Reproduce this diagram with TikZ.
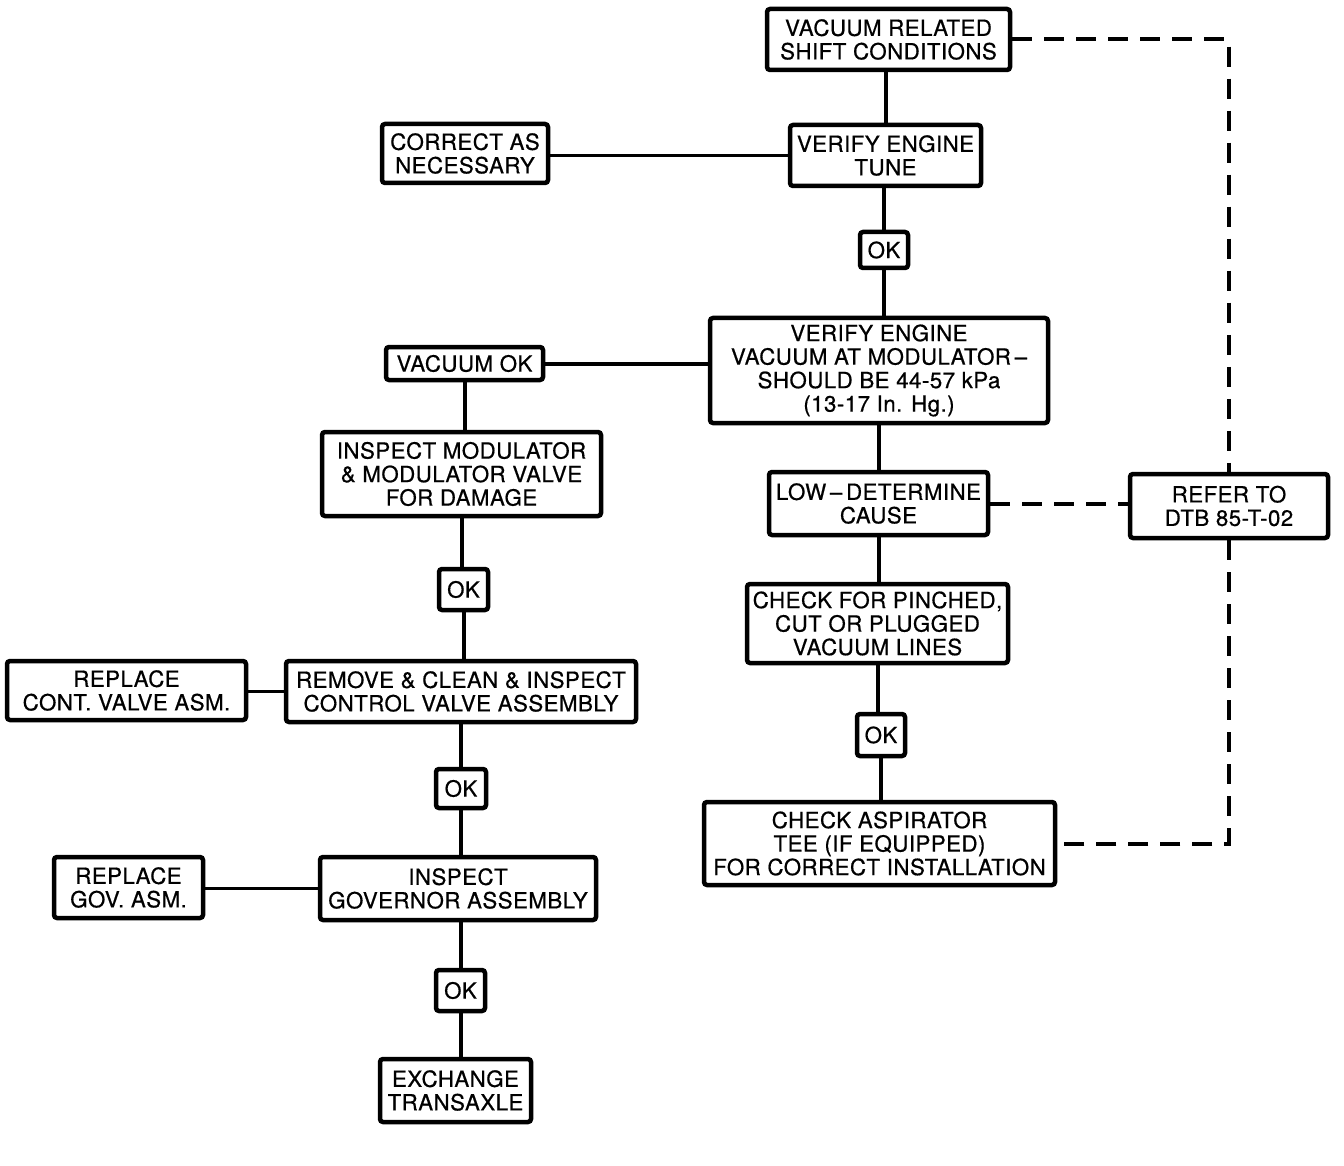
\documentclass[tikz,border=0pt]{standalone}
\usepackage{fontspec}
\setmainfont{TeX Gyre Heros}
\newfontfamily\boxfont{TeX Gyre Heros}[FakeBold=0.6,LetterSpace=2]
\begin{document}
\begin{tikzpicture}[x=1pt,y=-1pt,
  box/.style={draw, line width=4.5pt, rounded corners=3pt, fill=white, align=center,
    inner sep=2pt, font=\boxfont\fontsize{22.3}{23.5}\selectfont},
  conn/.style={line width=4pt},
  thinconn/.style={line width=3pt},
  dconn/.style={line width=4pt, dash pattern=on 20pt off 12pt}]
\useasboundingbox (0,0) rectangle (1344,1166);
% right column
\node[box, minimum width=243, minimum height=61] (top) at (888.5,39.5) {VACUUM RELATED\\SHIFT CONDITIONS};
\node[box, minimum width=191, minimum height=61] (tune) at (885.5,155.5) {VERIFY ENGINE\\TUNE};
\node[box, minimum width=166, minimum height=59] (correct) at (465,153.5) {CORRECT AS\\NECESSARY};
\node[box, minimum width=48, minimum height=36] (ok1) at (884,250) {OK};
\node[box, minimum width=338, minimum height=105] (vac) at (879,370.5) {VERIFY ENGINE\\VACUUM AT MODULATOR\,\textendash\\SHOULD BE 44-57 kPa\\(13-17 In. Hg.)};
\node[box, minimum width=219, minimum height=63] (low) at (878.5,503.5) {LOW\,\textendash\,DETERMINE\\CAUSE};
\node[box, minimum width=198, minimum height=64] (refer) at (1229,506) {REFER TO\\DTB 85-T-02};
\node[box, minimum width=261, minimum height=79] (pinch) at (877.5,623.5) {CHECK FOR PINCHED,\\CUT OR PLUGGED\\VACUUM LINES};
\node[box, minimum width=48, minimum height=42] (ok5) at (881,735) {OK};
\node[box, minimum width=351, minimum height=83] (asp) at (879.5,843.5) {CHECK ASPIRATOR\\TEE (IF EQUIPPED)\\FOR CORRECT INSTALLATION};
% left column
\node[box, minimum width=157, minimum height=33] (vacok) at (464.5,363.5) {VACUUM OK};
\node[box, minimum width=279, minimum height=84] (insp) at (461.5,474) {INSPECT MODULATOR\\\& MODULATOR VALVE\\FOR DAMAGE};
\node[box, minimum width=49, minimum height=41] (ok2) at (463.5,589.5) {OK};
\node[box, minimum width=350, minimum height=61] (remove) at (461,691.5) {REMOVE \& CLEAN \& INSPECT\\CONTROL VALVE ASSEMBLY};
\node[box, minimum width=239, minimum height=59] (repcv) at (126.5,690.5) {REPLACE\\CONT. VALVE ASM.};
\node[box, minimum width=50, minimum height=39] (ok3) at (461,788.5) {OK};
\node[box, minimum width=276, minimum height=63] (gov) at (458,888.5) {INSPECT\\GOVERNOR ASSEMBLY};
\node[box, minimum width=149, minimum height=61] (repgov) at (128.5,887.5) {REPLACE\\GOV. ASM.};
\node[box, minimum width=49, minimum height=41] (ok4) at (460.5,990.5) {OK};
\node[box, minimum width=151, minimum height=63] (exch) at (455.5,1090.5) {EXCHANGE\\TRANSAXLE};
% solid connectors, right chain
\draw[conn] (tune.north) -- (tune.north |- top.south);
\draw[conn] (ok1.north) -- (ok1.north |- tune.south);
\draw[conn] (ok1.south) -- (ok1.south |- vac.north);
\draw[conn] (low.north -| vac.south) -- (vac.south);
\draw[conn] (low.south) -- (low.south |- pinch.north);
\draw[conn] (pinch.south) -- (pinch.south |- ok5.north);
\draw[conn] (ok5.south) -- (ok5.south |- asp.north);
\draw[thinconn] (tune.west) -- (tune.west -| correct.east);
\draw[conn] (vacok.east) -- (vacok.east -| vac.west);
% left chain
\draw[conn] (vacok.south) -- (vacok.south |- insp.north);
\draw[conn] (insp.south) -- (insp.south |- ok2.north);
\draw[conn] (ok2.south) -- (ok2.south |- remove.north);
\draw[conn] (ok3.north) -- (ok3.north |- remove.south);
\draw[conn] (ok3.south) -- (ok3.south |- gov.north);
\draw[conn] (ok4.north) -- (ok4.north |- gov.south);
\draw[conn] (ok4.south) -- (ok4.south |- exch.north);
\draw[thinconn] (remove.west) -- (remove.west -| repcv.east);
\draw[thinconn] (gov.west) -- (gov.west -| repgov.east);
% dashed connectors
\draw[dconn] (top.east) -| (refer.north);
\draw[dconn] (low.east) -- (low.east -| refer.west);
\draw[dconn] (refer.south) |- (asp.east);
\end{tikzpicture}
\end{document}
